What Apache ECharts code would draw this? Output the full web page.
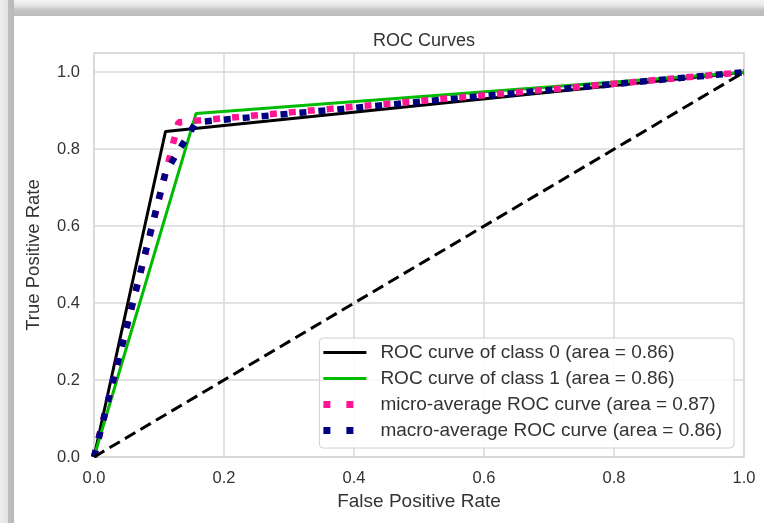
<!DOCTYPE html>
<html>
<head>
<meta charset="utf-8">
<script src="https://cdn.jsdelivr.net/npm/echarts@6/dist/echarts.min.js"></script>
<style>
  html, body { margin: 0; padding: 0; background: #ffffff; }
  #chart_roc { width: 764px; height: 523px; }
</style>
</head>
<body>
<div id="chart_roc"></div>
<script>
// ROC points
var fprClass0 = [0, 0.11, 1];
var tprClass0 = [0, 0.846, 1];
var fprClass1 = [0, 0.157, 1];
var tprClass1 = [0, 0.893, 1];
var fprMicro = [0, 0.13, 1];
var tprMicro = [0, 0.87, 1];
var fprMacro = [0, 0.11, 0.157, 1];
var tprMacro = [0, 0.74, 0.87, 1];
var fprDiag = [0, 1];
var tprDiag = [0, 1];

var seriesNames = [
  'ROC curve of class 0 (area = 0.86)',
  'ROC curve of class 1 (area = 0.86)',
  'micro-average ROC curve (area = 0.87)',
  'macro-average ROC curve (area = 0.86)'
];

function pairs(xs, ys) {
  var out = [];
  for (var i = 0; i < xs.length; i++) {
    out.push([xs[i], ys[i]]);
  }
  return out;
}

var myChartRoc = echarts.init(document.getElementById('chart_roc'));

const txt = '#333333';
const gridCol = '#d8d8d8';
const font = '"Liberation Sans", Arial, sans-serif';
// legend handles: a solid bar, or two square dots (tiny corner keeps the full width)
const solidIcon = 'path://M0,7.5 L43,7.5 L43,10.5 L0,10.5 Z M0,0 L0.01,0 L0,0.01 Z M43,18 L42.99,18 L43,17.99 Z';
const dotIcon = 'path://M0,5.5 L7,5.5 L7,12.5 L0,12.5 Z M23,5.5 L30,5.5 L30,12.5 L23,12.5 Z M0,0 L0.01,0 L0,0.01 Z M43,18 L42.99,18 L43,17.99 Z';

var option = {
  animation: false,
  backgroundColor: '#ffffff',
  title: {
    text: 'ROC Curves',
    left: 419,
    top: 27,
    textAlign: 'center',
    textStyle: { fontSize: 18, fontWeight: 'normal', color: txt, fontFamily: font }
  },
  graphic: [
    {
      type: 'rect',
      shape: { x: 0, y: 0, width: 764, height: 16 },
      style: {
        fill: new echarts.graphic.LinearGradient(0, 0, 0, 1, [
          { offset: 0, color: '#f4f4f4' },
          { offset: 0.35, color: '#e6e6e6' },
          { offset: 0.62, color: '#c3c3c3' },
          { offset: 1, color: '#bcbcbc' }
        ])
      },
      z: 100
    },
    {
      type: 'rect',
      shape: { x: 0, y: 0, width: 14, height: 523 },
      style: {
        fill: new echarts.graphic.LinearGradient(0, 0, 1, 0, [
          { offset: 0, color: '#ededed' },
          { offset: 0.55, color: '#e2e2e2' },
          { offset: 0.6, color: '#bebebe' },
          { offset: 1, color: '#b9b9b9' }
        ])
      },
      z: 100
    }
  ],
  legend: {
    orient: 'vertical',
    right: 30,
    bottom: 75,
    data: [
      { name: seriesNames[0], icon: solidIcon },
      { name: seriesNames[1], icon: solidIcon },
      { name: seriesNames[2], icon: dotIcon },
      { name: seriesNames[3], icon: dotIcon }
    ],
    itemWidth: 43,
    itemHeight: 18,
    itemGap: 7,
    symbolKeepAspect: true,
    padding: [5, 12, 8, 4],
    backgroundColor: 'rgba(255,255,255,0.85)',
    borderColor: '#d0d0d0',
    borderWidth: 1,
    borderRadius: 4,
    textStyle: { fontSize: 19, color: txt, fontFamily: font, padding: [0, 0, 0, 9] }
  },
  grid: {
    left: 94,
    right: 20,
    top: 53,
    bottom: 66,
    show: true,
    borderColor: gridCol,
    borderWidth: 1.5
  },
  xAxis: {
    type: 'value',
    min: 0,
    max: 1,
    interval: 0.2,
    name: 'False Positive Rate',
    nameLocation: 'middle',
    nameGap: 33,
    nameTextStyle: { fontSize: 19, color: txt, fontFamily: font },
    axisLine: { show: true, lineStyle: { color: gridCol, width: 1.5 } },
    axisTick: { show: false },
    axisLabel: {
      margin: 13,
      fontSize: 16.5,
      color: txt,
      fontFamily: font,
      formatter: function (v) { return v.toFixed(1); }
    },
    splitLine: { show: true, lineStyle: { color: gridCol, width: 1.5 } }
  },
  yAxis: {
    type: 'value',
    min: 0,
    max: 1.05,
    interval: 0.2,
    name: 'True Positive Rate',
    nameLocation: 'middle',
    nameGap: 51,
    nameTextStyle: { fontSize: 18.5, color: txt, fontFamily: font },
    axisLine: { show: true, lineStyle: { color: gridCol, width: 1.5 } },
    axisTick: { show: false },
    axisLabel: {
      margin: 14,
      fontSize: 16.5,
      color: txt,
      fontFamily: font,
      showMaxLabel: false,
      formatter: function (v) { return v.toFixed(1); }
    },
    splitLine: { show: true, lineStyle: { color: gridCol, width: 1.5 } }
  },
  series: [
    {
      name: seriesNames[0],
      type: 'line',
      symbol: 'none',
      data: pairs(fprClass0, tprClass0),
      itemStyle: { color: '#000000' },
      lineStyle: { color: '#000000', width: 3 }
    },
    {
      name: seriesNames[1],
      type: 'line',
      symbol: 'none',
      data: pairs(fprClass1, tprClass1),
      itemStyle: { color: '#00bb00' },
      lineStyle: { color: '#00bb00', width: 3 }
    },
    {
      name: seriesNames[2],
      type: 'line',
      symbol: 'none',
      data: pairs(fprMicro, tprMicro),
      itemStyle: { color: '#ff1493' },
      lineStyle: { color: '#ff1493', width: 6.5, type: [7, 12], cap: 'butt' }
    },
    {
      name: seriesNames[3],
      type: 'line',
      symbol: 'none',
      data: pairs(fprMacro, tprMacro),
      itemStyle: { color: '#000080' },
      lineStyle: { color: '#000080', width: 6.5, type: [7, 12], cap: 'butt' }
    },
    {
      name: 'chance',
      type: 'line',
      symbol: 'none',
      data: pairs(fprDiag, tprDiag),
      itemStyle: { color: '#000000' },
      lineStyle: { color: '#000000', width: 3, type: [12, 6] }
    }
  ]
};

myChartRoc.setOption(option);
</script>
</body>
</html>
